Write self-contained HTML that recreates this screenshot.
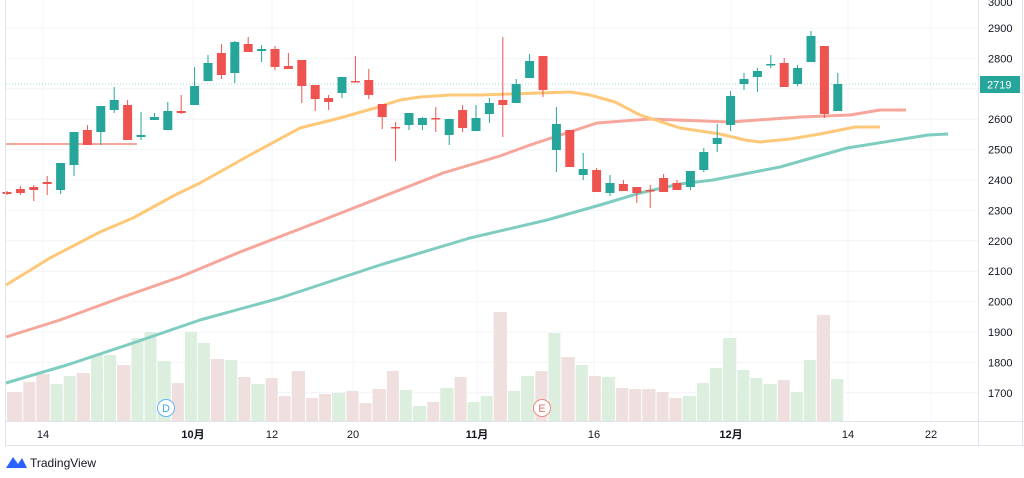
<!DOCTYPE html>
<html><head><meta charset="utf-8"><style>
html,body{margin:0;padding:0;background:#fff;width:1024px;height:478px;overflow:hidden}
svg{display:block;font-family:"Liberation Sans","Noto Sans CJK JP",sans-serif}
</style></head><body>
<svg id="s" width="1024" height="478" viewBox="0 0 1024 478" xmlns="http://www.w3.org/2000/svg"></svg>
<script>
var s=document.getElementById('s');var h='';
function Y(p){return 28+(2900-p)*0.304;}
// grid
var pr=[2900,2800,2700,2600,2500,2400,2300,2200,2100,2000,1900,1800,1700];
pr.forEach(function(p){h+='<line x1="6" x2="978" y1="'+Y(p)+'" y2="'+Y(p)+'" stroke="#f2f4f9"/>';});
[43,193,272,353,477,594,731,848,931].forEach(function(x){h+='<line x1="'+x+'" x2="'+x+'" y1="0" y2="421" stroke="#f2f4f9"/>';});
// volume bars (zoom x /1.535, top y)
var vb=[[10,35,392,0],[35,55,382,0],[55,77,374,0],[77,97,384,1],[97,117,376,1],[117,139,373,0],[139,159,355,1],[159,179,355,1],[179,201,365,0],[201,221,338,1],[221,241,332,1],[241,263,361,1],[263,283,383,0],[283,303,332,1],[303,323,343,1],[323,345,359,0],[345,365,360,1],[365,385,377,0],[385,407,384,1],[407,427,378,0],[427,447,396,0],[447,469,371,0],[469,489,398,0],[489,509,394,0],[509,531,393,1],[531,551,391,0],[551,571,403,0],[571,593,389,0],[593,613,371,0],[613,633,390,1],[633,655,406,1],[655,675,402,0],[675,697,388,1],[697,717,377,0],[717,737,402,1],[737,757,396,1],[757,779,312,0],[779,799,391,1],[799,821,376,1],[821,841,371,0],[841,861,333,1],[861,883,357,0],[883,903,365,1],[903,923,376,0],[923,945,377,1],[945,965,388,0],[965,985,389,0],[985,1007,389,0],[1007,1027,392,0],[1027,1047,398,0],[1047,1069,396,1],[1069,1089,383,1],[1089,1109,368,1],[1109,1131,338,1],[1131,1151,370,1],[1151,1171,378,1],[1171,1193,384,1],[1193,1213,380,0],[1213,1233,392,1],[1233,1253,360,1],[1253,1275,315,0],[1275,1295,379,1]];
vb.forEach(function(b){var x1=b[0]/1.535,x2=b[1]/1.535;h+='<rect x="'+(x1+0.5)+'" y="'+b[2]+'" width="'+(x2-x1-1)+'" height="'+(421-b[2])+'" fill="'+(b[3]?'#dcefdf':'#efdfdf')+'"/>';});
// MA lines
function pl(pts,c,w){h+='<polyline fill="none" stroke="'+c+'" stroke-width="'+w+'" stroke-linejoin="round" points="'+pts.map(function(p){return p.join(',')}).join(' ')+'"/>';}
pl([[6,383],[67,365],[133,343],[200,320],[280,298],[380,265],[470,238],[547,220],[600,205],[640,193],[680,184],[713,180],[780,167],[847,148],[928,135],[948,134]],'#7fcdc0',3);
pl([[6,337],[60,320],[120,298],[180,277],[240,252],[323,220],[443,173],[500,156],[530,145],[597,123],[650,119],[730,122],[800,117],[850,115],[880,110],[906,110]],'#f7a69c',3);
pl([[6,285],[50,258],[100,232],[133,218],[175,195],[200,183],[250,155],[300,128],[340,118],[375,108],[400,100],[420,97],[450,95],[480,95],[510,94],[540,93],[570,92],[590,95],[615,102],[640,115],[680,128],[720,134],[745,140],[760,142],[790,139],[820,134],[840,130],[855,127],[880,127]],'#ffc878',3);
h+='<line x1="6" x2="137" y1="144" y2="144" stroke="#f7a69c" stroke-width="2"/>';
h+='<line x1="6" x2="978" y1="84" y2="84" stroke="#9fd8d0" stroke-dasharray="1,2"/>';
// candles [bodyTop, bodyBot, wickTop, wickBot, green]
var c=[[192,194,191,195,0],[189,193,186,195,0],[187,190,185,201,0],[182,184,176,195,0],[163,190,163,194,1],[132,165,132,176,1],[130,145,125,145,0],[106,132,106,145,1],[100,110,87,113,1],[105,140,100,140,0],[135,137,112,140,1],[117,120,113,120,1],[111,130,102,130,1],[111,113,95,114,0],[86,105,67,105,1],[63,81,55,81,1],[53,75,44,79,0],[42,73,41,83,1],[44,52,37,52,0],[49,51,45,62,1],[49,67,46,70,0],[66,69,53,69,0],[60,86,60,103,0],[85,99,85,111,0],[98,102,95,110,0],[77,93,77,98,1],[81,82,56,82,0],[80,95,69,99,0],[104,117,104,129,0],[127,128,122,161,0],[113,125,113,130,1],[118,125,117,130,1],[118,119,107,132,0],[119,135,119,145,1],[110,128,105,132,0],[118,131,105,131,1],[103,114,98,123,1],[100,105,37,137,0],[84,103,79,103,1],[61,78,54,78,1],[56,90,56,97,0],[124,150,107,172,1],[130,167,130,167,0],[169,175,153,180,1],[170,192,168,192,0],[183,193,175,196,1],[184,191,180,191,0],[187,193,187,203,0],[190,191,185,208,0],[178,192,174,192,0],[183,190,180,190,0],[171,187,171,190,1],[152,170,148,172,1],[138,144,124,152,1],[96,125,91,131,1],[79,84,73,90,1],[71,77,68,92,1],[64,65,55,68,1],[63,87,58,87,0],[68,84,65,86,1],[36,62,31,62,1],[46,114,46,118,0],[84,111,73,111,1]];
c.forEach(function(d,i){var x=7+i*13.4;var col=d[4]?'#26a69a':'#ef5350';
h+='<line x1="'+x+'" x2="'+x+'" y1="'+d[2]+'" y2="'+d[3]+'" stroke="'+col+'"/>';
var bh=Math.max(d[1]-d[0],1.5);h+='<rect x="'+(x-4.5)+'" y="'+d[0]+'" width="9" height="'+bh+'" fill="'+col+'"/>';});
// markers
h+='<circle cx="166" cy="408" r="8.5" fill="#fff" stroke="#64b5f6"/><text x="166" y="412" font-size="11" fill="#42a5f5" text-anchor="middle">D</text>';
h+='<circle cx="542" cy="408" r="8.5" fill="#fff" stroke="#ef8a88"/><text x="542" y="412" font-size="11" fill="#e57373" text-anchor="middle">E</text>';
// axes
h+='<line x1="978.5" x2="978.5" y1="0" y2="446" stroke="#e0e3eb"/>';
h+='<line x1="6" x2="1024" y1="421.5" y2="421.5" stroke="#e0e3eb"/>';
h+='<line x1="5.5" x2="5.5" y1="0" y2="446" stroke="#e0e3eb"/>';
h+='<line x1="5" x2="1024" y1="445.5" y2="445.5" stroke="#e0e3eb"/>';
h+='<line x1="1022.5" x2="1022.5" y1="0" y2="446" stroke="#e0e3eb"/>';
h+='<text x="988" y="6" font-size="11" fill="#131722">3000</text>';
pr.forEach(function(p){if(p!=2700)h+='<text x="988" y="'+(Y(p)+4)+'" font-size="11" fill="#131722">'+p+'</text>';});
h+='<rect x="980" y="76" width="40" height="17" fill="#26a69a"/><text x="987" y="88.5" font-size="11" fill="#fff">2719</text>';
[[43,'14',0],[193,'10月',1],[272,'12',0],[353,'20',0],[477,'11月',1],[594,'16',0],[731,'12月',1],[848,'14',0],[931,'22',0]].forEach(function(t){h+='<text x="'+t[0]+'" y="438" font-size="11" fill="#131722" text-anchor="middle"'+(t[2]?' font-weight="bold"':'')+'>'+t[1]+'</text>';});
// logo
h+='<path d="M6 468 L13 457 L18 464 L22 458 L27 468 Z" fill="#2962ff"/><text x="30" y="467" font-size="12" fill="#131722">TradingView</text>';
s.innerHTML=h;
</script>
</body></html>
